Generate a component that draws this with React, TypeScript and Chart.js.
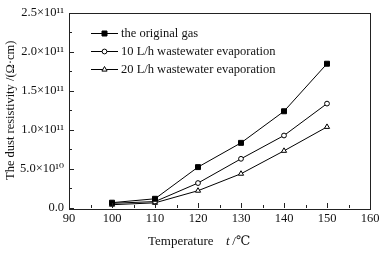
import React, { useEffect, useRef } from "react";
import { Chart, registerables } from "chart.js";

Chart.register(...registerables);

const temperatures = [100, 110, 120, 130, 140, 150];
const originalGas = [0.068e11, 0.118e11, 0.523e11, 0.833e11, 1.237e11, 1.845e11];
const tenLh = [0.06e11, 0.082e11, 0.319e11, 0.629e11, 0.927e11, 1.335e11];
const twentyLh = [0.042e11, 0.066e11, 0.221e11, 0.438e11, 0.731e11, 1.037e11];
const seriesNames = [
  "the original gas",
  "10 L/h wastewater evaporation",
  "20 L/h wastewater evaporation",
];
const pointStyles = ["rect", "circle", "triangle"];
const pointFills = ["#000", "#fff", "#fff"];
const pointRadii = [3.5, 2.4, 3.0];

const FONT = "'Liberation Serif', 'DejaVu Serif', serif";
const INK = "#111";

function fmtY(v: number): string {
  if (Math.abs(v) < 1) return "0.0";
  if (v >= 1e11 - 1) return (v / 1e11).toFixed(1) + "×10¹¹";
  return (v / 1e10).toFixed(1) + "×10¹⁰";
}

function drawMarker(ctx: CanvasRenderingContext2D, style: string, x: number, y: number, fill: string) {
  ctx.save();
  ctx.lineWidth = 1;
  ctx.strokeStyle = "#000";
  ctx.fillStyle = fill;
  ctx.beginPath();
  if (style === "rect") {
    ctx.rect(x - 2.5, y - 2.5, 5, 5);
  } else if (style === "circle") {
    ctx.arc(x, y, 2.4, 0, Math.PI * 2);
  } else {
    ctx.moveTo(x, y - 3);
    ctx.lineTo(x + 2.6, y + 1.6);
    ctx.lineTo(x - 2.6, y + 1.6);
    ctx.closePath();
  }
  ctx.fill();
  ctx.stroke();
  ctx.restore();
}

const framePlugin = {
  id: "frameTicks",
  afterDraw(chart: any) {
    const ctx: CanvasRenderingContext2D = chart.ctx;
    const { left, right, top, bottom } = chart.chartArea;
    const xs = chart.scales.x;
    const ys = chart.scales.y;
    ctx.save();
    ctx.strokeStyle = "#222";
    ctx.lineWidth = 1;
    ctx.strokeRect(Math.round(left) + 0.5, Math.round(top) + 0.5, Math.round(right - left), Math.round(bottom - top));
    ctx.beginPath();
    for (let v = 90; v <= 160; v += 5) {
      const px = Math.round(xs.getPixelForValue(v)) + 0.5;
      const len = v % 10 === 0 ? 5 : 3;
      ctx.moveTo(px, bottom);
      ctx.lineTo(px, bottom - len);
    }
    for (let i = 0; i <= 10; i++) {
      const v = i * 0.25e11;
      const py = Math.round(ys.getPixelForValue(v)) + 0.5;
      const len = i % 2 === 0 ? 5 : 3;
      ctx.moveTo(left, py);
      ctx.lineTo(left + len, py);
    }
    ctx.stroke();

    // legend
    const lx0 = 91;
    const lx1 = 118;
    const rows = [33, 51, 69];
    ctx.font = `12.5px ${FONT}`;
    ctx.textBaseline = "middle";
    ctx.textAlign = "left";
    for (let i = 0; i < 3; i++) {
      const y = rows[i] + 0.5;
      ctx.beginPath();
      ctx.strokeStyle = "#000";
      ctx.moveTo(lx0, y);
      ctx.lineTo(lx1, y);
      ctx.stroke();
      drawMarker(ctx, pointStyles[i], (lx0 + lx1) / 2, y, pointFills[i]);
      ctx.fillStyle = INK;
      ctx.fillText(seriesNames[i], 121, rows[i] + 1);
    }

    // x title
    ctx.font = `13px ${FONT}`;
    ctx.fillStyle = INK;
    ctx.textBaseline = "middle";
    ctx.fillText("Temperature", 148, 242);
    ctx.font = `italic 13px ${FONT}`;
    ctx.fillText("t", 226, 242);
    ctx.font = `13px ${FONT}`;
    ctx.fillText(" /℃", 229, 242);
    ctx.restore();
  },
};

export default function App() {
  const ref = useRef<HTMLCanvasElement | null>(null);
  useEffect(() => {
    document.body.style.margin = "0";
    const datasets = [originalGas, tenLh, twentyLh].map((vals, i) => ({
      label: seriesNames[i],
      data: temperatures.map((t, j) => ({ x: t, y: vals[j] })),
      borderColor: "#000",
      borderWidth: 1,
      backgroundColor: pointFills[i],
      pointStyle: pointStyles[i] as any,
      pointRadius: pointRadii[i],
      pointBorderColor: "#000",
      pointBorderWidth: 1,
      pointBackgroundColor: pointFills[i],
      tension: 0,
      fill: false,
    }));
    const chart = new Chart(ref.current as HTMLCanvasElement, {
      type: "line",
      data: { datasets },
      plugins: [framePlugin],
      options: {
        animation: false,
        responsive: false,
        devicePixelRatio: 1,
        layout: { padding: { left: 0, top: 12, right: 17, bottom: 0 } },
        plugins: { legend: { display: false }, tooltip: { enabled: false } },
        scales: {
          x: {
            type: "linear",
            min: 90,
            max: 160,
            border: { display: false },
            grid: { display: false, drawTicks: false },
            ticks: {
              stepSize: 10,
              padding: 3,
              color: INK,
              font: { family: FONT, size: 12.5 },
              maxRotation: 0,
            },
            afterFit: (s: any) => {
              s.height = 48;
            },
          },
          y: {
            type: "linear",
            min: 0,
            max: 2.5e11,
            border: { display: false },
            grid: { display: false, drawTicks: false },
            ticks: {
              stepSize: 0.5e11,
              padding: 5,
              color: INK,
              font: { family: FONT, size: 12.5 },
              callback: (v: any) => fmtY(Number(v)),
            },
            title: {
              display: true,
              text: "The dust resistivity /(Ω·cm)",
              color: INK,
              font: { family: FONT, size: 12.5 },
              padding: { top: 3, bottom: 0 },
            },
            afterFit: (s: any) => {
              s.width = 69;
            },
          },
        },
      },
    });
    return () => chart.destroy();
  }, []);
  return <canvas ref={ref} width={387} height={256} style={{ display: "block" }} />;
}
